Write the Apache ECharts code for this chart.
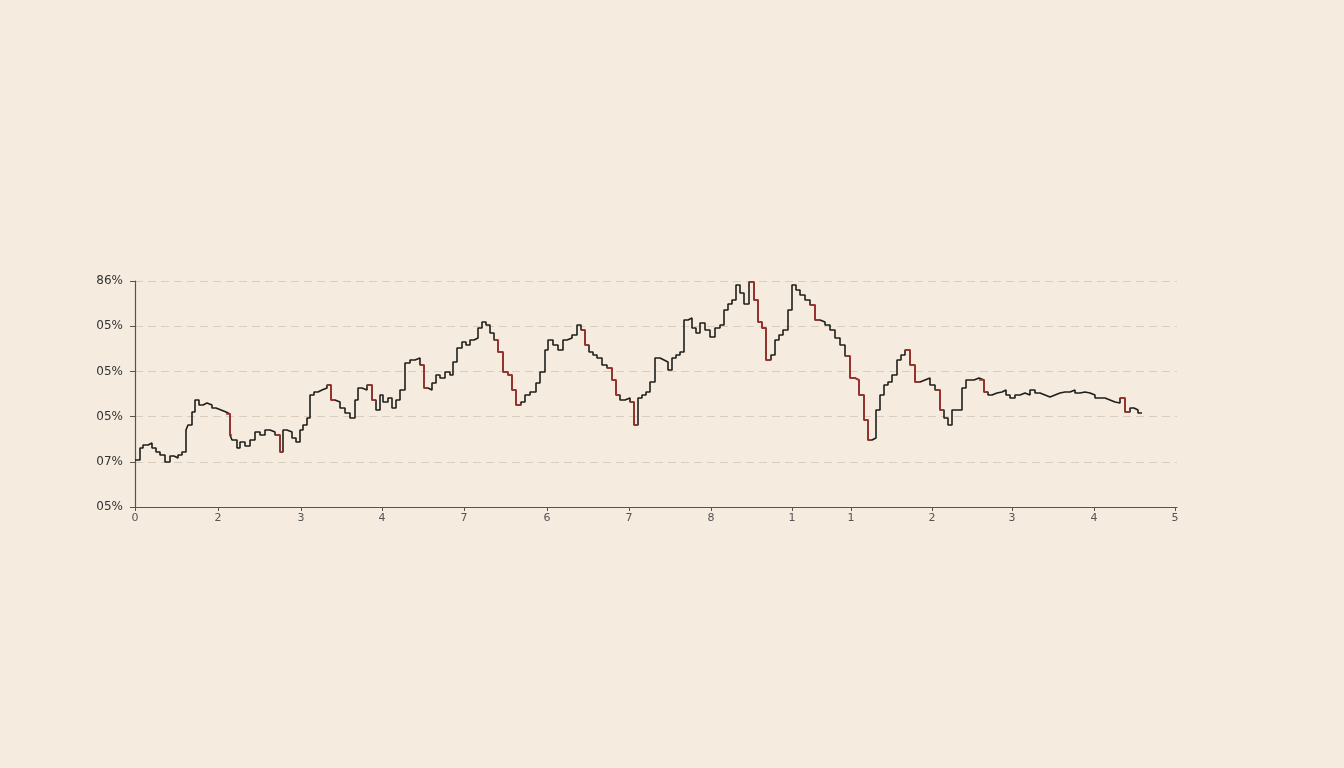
<!DOCTYPE html>
<html><head><meta charset="utf-8">
<script src="https://cdn.jsdelivr.net/npm/echarts@6/dist/echarts.min.js"></script>
<style>html,body{margin:0;padding:0;background:#f5ebdf}#c{width:1344px;height:768px}</style>
</head><body><div id="c"></div>
<script>
// [position along x axis, level] pairs
const points = [[0,47],[5,47],[8,59],[13,62],[17,64],[21,59],[25,55],[30,52],[35,45],[39,51],[43,49],[47,52],[51,55],[53,77],[57,82],[60,95],[64,107],[68,102],[72,104],[77,102],[81,99],[86,97],[91,95],[95,93],[97,72],[102,67],[105,59],[110,65],[115,61],[120,67],[125,75],[130,72],[135,77],[140,75],[145,72],[148,55],[152,77],[157,75],[161,69],[165,65],[168,77],[172,82],[175,89],[179,112],[183,115],[187,117],[192,119],[196,122],[200,107],[205,105],[210,99],[215,94],[220,89],[223,107],[227,119],[232,117],[237,122],[241,107],[245,97],[248,112],[253,105],[257,109],[261,99],[265,107],[270,117],[275,144],[280,147],[285,149],[289,142],[293,119],[297,117],[301,124],[305,132],[310,129],[315,135],[318,132],[322,145],[327,159],[331,165],[335,162],[339,167],[343,169],[347,179],[351,185],[355,182],[359,174],[363,167],[368,155],[373,135],[377,132],[381,117],[386,102],[390,105],[395,112],[401,115],[405,124],[410,135],[413,157],[418,167],[423,162],[428,157],[432,167],[437,169],[442,172],[446,182],[450,177],[454,162],[458,155],[462,152],[467,149],[472,142],[477,139],[481,127],[485,112],[490,107],[495,109],[499,105],[503,82],[507,109],[511,112],[515,115],[520,125],[525,149],[529,147],[533,145],[537,137],[541,149],[545,152],[549,155],[553,187],[557,189],[561,179],[565,174],[570,184],[575,177],[580,170],[585,179],[589,182],[593,197],[597,203],[601,207],[605,222],[609,214],[614,203],[619,225],[623,207],[627,185],[631,179],[636,147],[640,152],[644,167],[648,172],[653,177],[657,197],[661,222],[665,217],[670,212],[675,207],[680,202],[685,187],[690,185],[695,182],[700,177],[705,169],[710,162],[715,151],[720,129],[724,127],[729,112],[733,87],[737,67],[741,69],[745,97],[749,112],[753,122],[757,125],[762,132],[766,147],[770,152],[775,157],[780,142],[785,125],[790,127],[795,129],[800,122],[805,117],[809,97],[813,89],[817,82],[822,97],[827,97],[831,119],[835,127],[839,127],[844,129],[849,127],[853,115],[857,112],[862,114],[867,115],[871,117],[875,112],[880,109],[885,112],[890,114],[895,112],[900,117],[905,114],[910,112],[915,110],[920,112],[925,114],[930,115],[935,115],[940,117],[945,114],[950,115],[955,114],[960,112],[965,109],[970,109],[975,107],[980,105],[985,104],[990,109],[995,95],[999,99],[1003,97],[1007,94]];
const xTickValues = [0,83,166,247,329,412,494,576,657,716,797,877,959,1040];
const xTickLabels = ['0','2','3','4','7','6','7','8','1','1','2','3','4','5'];
const yTickLabels = ['05%','07%','05%','05%','05%','86%'];

const redData = points.map(p=>[p[0],null]);
for(let i=0;i<points.length-1;i++){ if(points[i][1]-points[i+1][1]>=12){ redData[i]=points[i]; redData[i+1]=points[i+1]; } }

const chart = echarts.init(document.getElementById('c'));
chart.setOption({
  backgroundColor:'#f5ebdf',
  animation:false,
  grid:{left:135,right:167,top:281,bottom:261},
  xAxis:{type:'value',min:0,max:1042,
    axisLine:{lineStyle:{color:'#5e5247',width:1.2}},
    axisTick:{customValues:xTickValues,length:4,lineStyle:{color:'#5e5247'}},
    axisLabel:{customValues:xTickValues,formatter:v=>xTickLabels[xTickValues.indexOf(Math.round(v))]??'',color:'#555',fontSize:11,margin:6,fontFamily:'DejaVu Sans'},
    splitLine:{show:false}},
  yAxis:{type:'value',min:0,max:226,interval:45.2,
    axisLine:{show:true,lineStyle:{color:'#5e5247',width:1.2}},
    axisTick:{show:true,length:5,lineStyle:{color:'#5e5247'}},
    axisLabel:{formatter:v=>yTickLabels[Math.round(v/45.2)]??'',color:'#333',fontSize:12,margin:12,fontFamily:'DejaVu Sans'},
    splitLine:{lineStyle:{color:'#d9cdbd',type:[8,5],width:1}}},
  series:[
    {type:'line',data:points,step:'start',symbol:'none',lineStyle:{color:'#1e1f1a',width:1.6}},
    {type:'line',data:redData,step:'start',symbol:'none',connectNulls:false,lineStyle:{color:'#a8302a',width:1.6}}
  ]
});
</script></body></html>
